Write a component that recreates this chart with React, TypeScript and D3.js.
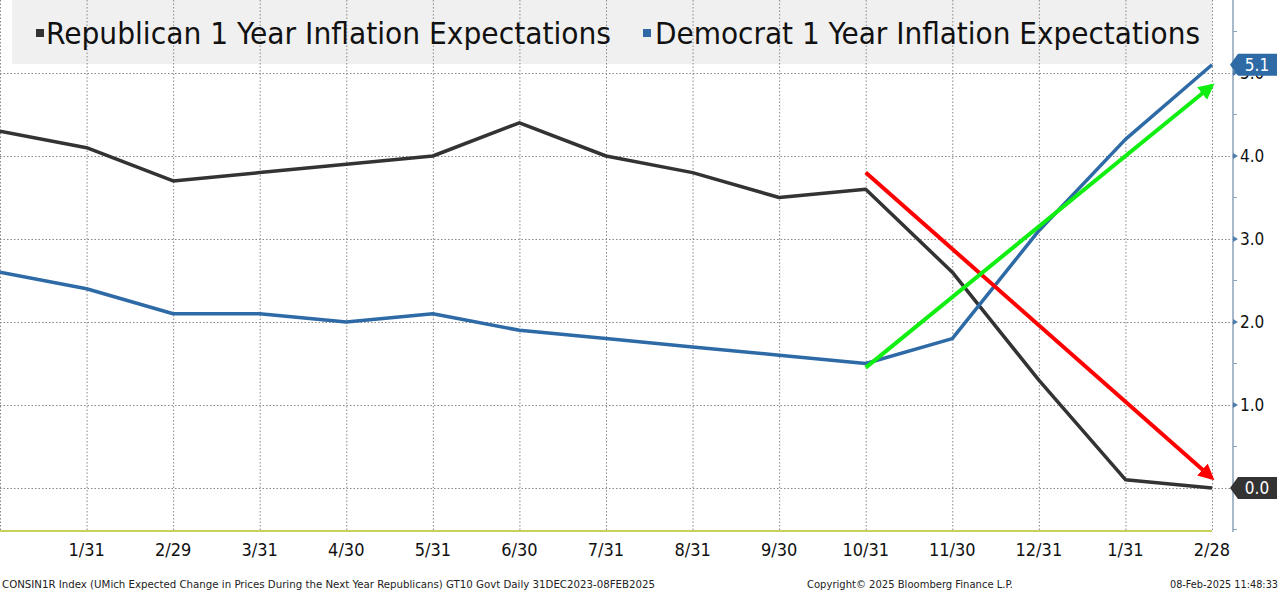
import React from 'react';
import * as d3 from 'd3';

// monthly points, 12/31/2023 .. 2/28/2025
const months = ['12/31', '1/31', '2/29', '3/31', '4/30', '5/31', '6/30', '7/31', '8/31', '9/30', '10/31', '11/30', '12/31', '1/31', '2/28'];
const republican = [4.3, 4.1, 3.7, 3.8, 3.9, 4.0, 4.4, 4.0, 3.8, 3.5, 3.6, 2.6, 1.3, 0.1, 0.0];
const democrat = [2.6, 2.4, 2.1, 2.1, 2.0, 2.1, 1.9, 1.8, 1.7, 1.6, 1.5, 1.8, 3.1, 4.2, 5.1];
const yTicks = [0, 1, 2, 3, 4, 5];
// annotation arrows: [startIndex, startValue, endIndex, endValue]
const redArrow = [10, 3.8, 14, 0.12];
const greenArrow = [10, 1.45, 14, 4.85];

const W = 1280;
const H = 593;
const plotRight = 1212;
const axisX = 1233;
const plotBottom = 530;

const FONT = "'DejaVu Sans Condensed', 'Liberation Sans Narrow', 'DejaVu Sans', sans-serif";

export default function App() {
  const x = d3.scaleLinear().domain([0, months.length - 1]).range([0, plotRight]);
  const y = d3.scaleLinear().domain([0, 5]).range([488, 73]);

  const line = d3
    .line<number>()
    .x((_, i) => x(i))
    .y((d) => y(d));

  const arrow = (a: number[], color: string, id: string) => (
    <line
      x1={x(a[0])}
      y1={y(a[1])}
      x2={x(a[2])}
      y2={y(a[3])}
      stroke={color}
      strokeWidth={4}
      markerEnd={`url(#${id})`}
    />
  );

  const minorTicks = d3.range(-0.5, 5.6, 0.5).filter((v) => !yTicks.includes(v));

  const lastR = republican[republican.length - 1];
  const lastD = democrat[democrat.length - 1];
  const valueTag = (v: number, fill: string) => {
    const cy = y(v);
    return (
      <g>
        <path
          d={`M${axisX - 3},${cy} L${axisX + 5},${cy - 11} L${W - 3},${cy - 11} L${W - 3},${cy + 11} L${axisX + 5},${cy + 11} Z`}
          fill={fill}
        />
        <text x={axisX + 24} y={cy + 6} fill="#fff" fontSize={17} fontFamily={FONT} textAnchor="middle">
          {v.toFixed(1)}
        </text>
      </g>
    );
  };

  return (
    <svg width={W} height={H} style={{ position: 'absolute', left: 0, top: 0, background: '#fff' }}>
      <defs>
        <marker id="redHead" viewBox="0 0 10 10" refX="8" refY="5" markerWidth="4" markerHeight="4" orient="auto">
          <path d="M0,0 L10,5 L0,10 Z" fill="#ff0000" />
        </marker>
        <marker id="greenHead" viewBox="0 0 10 10" refX="8" refY="5" markerWidth="4" markerHeight="4" orient="auto">
          <path d="M0,0 L10,5 L0,10 Z" fill="#11ee11" />
        </marker>
      </defs>

      {/* legend box */}
      <rect x={12} y={0} width={plotRight - 12} height={64} fill="#f0f0f0" />

      {/* grid */}
      {months.map((m, i) => (
        <line key={'v' + i} x1={x(i) + 0.5} x2={x(i) + 0.5} y1={0} y2={plotBottom} stroke="#888" strokeDasharray="1.5,2" strokeWidth={1} />
      ))}
      {yTicks.map((t) => (
        <line key={'h' + t} x1={0} x2={axisX} y1={y(t) + 0.5} y2={y(t) + 0.5} stroke="#888" strokeDasharray="1.5,2" strokeWidth={1} />
      ))}

      {/* legend */}
      <rect x={36} y={29} width={8} height={8} fill="#333" />
      <text x={46} y={44} fontSize={30} fontFamily={FONT} fill="#111" textLength={565} lengthAdjust="spacingAndGlyphs">
        Republican 1 Year Inflation Expectations
      </text>
      <rect x={643} y={29} width={8} height={8} fill="#2e6aa6" />
      <text x={655} y={44} fontSize={30} fontFamily={FONT} fill="#111" textLength={545} lengthAdjust="spacingAndGlyphs">
        Democrat 1 Year Inflation Expectations
      </text>

      {/* axes */}
      <line x1={0} x2={plotRight} y1={plotBottom + 1} y2={plotBottom + 1} stroke="#c8d25a" strokeWidth={2} />
      <line x1={axisX} x2={axisX} y1={0} y2={plotBottom + 2} stroke="#8aa2ba" strokeWidth={1.5} />
      {minorTicks.map((t) => (
        <line key={'m' + t} x1={axisX} x2={axisX + 4} y1={y(t)} y2={y(t)} stroke="#8aa2ba" strokeWidth={1} />
      ))}
      {yTicks.map((t) => (
        <g key={'yt' + t}>
          <path d={`M${axisX},${y(t) - 3} L${axisX + 5},${y(t)} L${axisX},${y(t) + 3} Z`} fill="#4f7fae" />
          <text x={axisX + 7} y={y(t) + 6} fontSize={17} fontFamily={FONT} fill="#111">
            {t.toFixed(1)}
          </text>
        </g>
      ))}
      {months.map((m, i) =>
        i === 0 ? null : (
          <text key={'xt' + i} x={x(i)} y={556} fontSize={18} fontFamily={FONT} fill="#111" textAnchor="middle">
            {m}
          </text>
        )
      )}

      {/* series */}
      <path d={line(republican) || ''} fill="none" stroke="#333333" strokeWidth={3.5} strokeLinejoin="round" />
      <path d={line(democrat) || ''} fill="none" stroke="#2e6aa6" strokeWidth={3.5} strokeLinejoin="round" />

      {/* annotations */}
      {arrow(redArrow, '#ff0000', 'redHead')}
      {arrow(greenArrow, '#11ee11', 'greenHead')}

      {/* value tags */}
      {valueTag(lastD, '#2e6aa6')}
      {valueTag(lastR, '#333333')}

      {/* footer */}
      <text x={2} y={588} fontSize={11} fontFamily={FONT} fill="#222" textLength={653} lengthAdjust="spacingAndGlyphs">
        CONSIN1R Index (UMich Expected Change in Prices During the Next Year Republicans) GT10  Govt  Daily 31DEC2023-08FEB2025
      </text>
      <text x={807} y={588} fontSize={11} fontFamily={FONT} fill="#222" textLength={206} lengthAdjust="spacingAndGlyphs">
        Copyright© 2025 Bloomberg Finance L.P.
      </text>
      <text x={1170} y={588} fontSize={11} fontFamily={FONT} fill="#222" textLength={108} lengthAdjust="spacingAndGlyphs">
        08-Feb-2025 11:48:33
      </text>
    </svg>
  );
}
